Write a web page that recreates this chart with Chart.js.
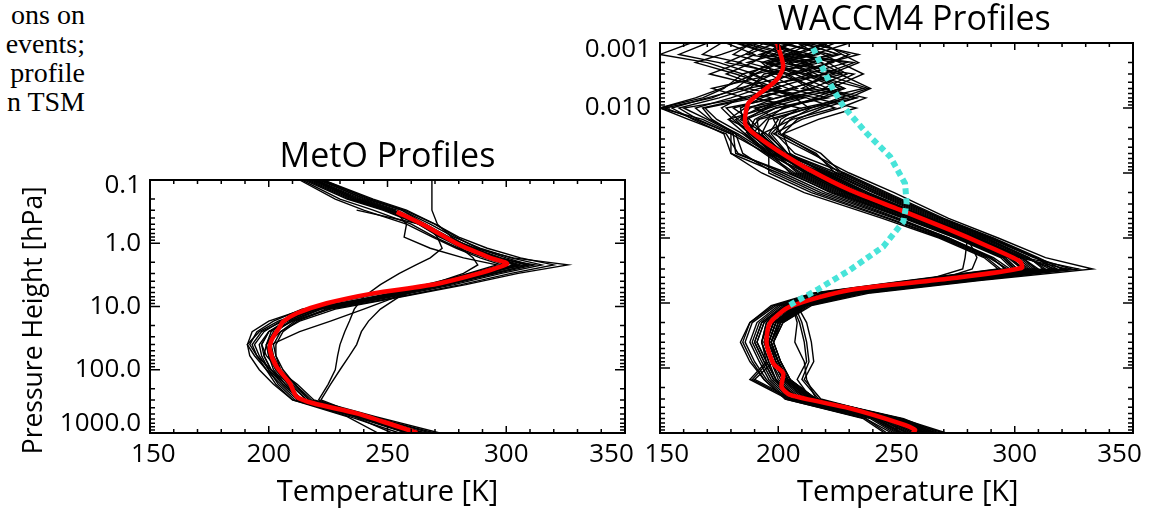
<!DOCTYPE html>
<html><head><meta charset="utf-8">
<script src="https://cdn.jsdelivr.net/npm/chart.js@4/dist/chart.umd.min.js"></script>
<style>
html,body{margin:0;padding:0;background:#fff;width:1157px;height:515px;overflow:hidden;position:relative}
#c1w{position:absolute;left:0;top:130px;width:645px;height:385px}
#c2w{position:absolute;left:560px;top:0;width:597px;height:515px}
#frag{position:absolute;left:-200px;top:0px;width:285px;text-align:right;white-space:nowrap;font-family:'Liberation Serif',serif;font-size:28px;line-height:29px;color:#000}
</style></head>
<body>
<div id="frag">ons on<br>events;<br>profile<br>n TSM</div>
<div id="c1w"><canvas id="c1"></canvas></div>
<div id="c2w"><canvas id="c2"></canvas></div>
<script>
// ---------------- data ----------------
const tempTicks = [150, 200, 250, 300, 350];
const tempTickLabels = ['150', '200', '250', '300', '350'];
const metoPressureTicks = [0.1, 1, 10, 100, 1000];
const metoPressureTickLabels = ['0.1', '1.0', '10.0', '100.0', '1000.0'];
const waccmPressureTicks = [0.001, 0.01];
const waccmPressureTickLabels = ['0.001', '0.010'];

// MetO profiles: temperature [K] at these pressure levels [hPa]
const metoPressure = [0.1, 0.2, 0.3, 0.5, 0.8, 1.2, 1.7, 2.2, 3, 4.5, 7, 11, 17, 25, 40, 60, 100, 170, 300, 550, 1000];
const metoT01 = [216, 234, 249, 263, 272, 282, 294, 303, 290, 272, 248, 221, 209, 203, 200, 200, 203, 208, 214, 239, 262];
const metoT02 = [219, 238, 252, 266, 276, 286, 298, 309, 295, 275, 250, 224, 211, 205, 202, 203, 206, 211, 218, 242, 265];
const metoT03 = [221, 241, 256, 268, 278, 289, 302, 315, 298, 278, 252, 225, 212, 206, 203, 203, 205, 210, 217, 244, 268];
const metoT04 = [214, 230, 244, 260, 270, 280, 291, 300, 288, 270, 245, 215, 200, 193, 191, 194, 199, 205, 212, 236, 258];
const metoT05 = [222, 243, 257, 270, 280, 292, 306, 320, 302, 281, 255, 226, 210, 200, 196, 197, 200, 206, 213, 240, 264];
const metoT06 = [218, 236, 250, 265, 275, 287, 303, 326, 305, 283, 256, 228, 213, 205, 199, 198, 201, 207, 214, 243, 270];
const metoT07 = [213, 228, 240, 258, 269, 279, 289, 298, 285, 266, 240, 214, 202, 195, 192, 195, 201, 209, 216, 238, 260];
const metoT08 = [220, 239, 253, 258, 257, 268, 282, 296, 284, 268, 244, 218, 205, 198, 194, 196, 200, 204, 211, 234, 255];
const metoT09 = [268.7, 268.7, 268.7, 271, 277, 285, 296, 306, 292, 273, 249, 222, 210, 202, 199, 200, 203, 209, 216, 241, 264];
const metoT10 = [223, 242, 256, 266, 271, 273, 268, 262, 255, 247, 240, 236, 234, 232, 230, 229, 228, 225, 221, 238, 258];
const metoT11 = [217, 235, 250, 264, 274, 284, 295, 304, 290, 268, 255, 247, 242, 239, 237, 234, 230, 226, 222, 240, 261];
const metoT12 = [220, 237, 252, 265, 275, 285, 297, 308, 290, 270, 254, 240, 226, 213, 201, 202, 205, 211, 217, 242, 266];
const metoT13 = [222, 240, 254, 266, 275, 284, 295, 305, 293, 274, 249, 220, 206, 197, 193, 195, 199, 203, 210, 236, 252];
const metoT14 = [215, 233, 248, 263, 273, 283, 295, 312, 296, 276, 250, 222, 208, 200, 197, 199, 204, 212, 219, 245, 272];
const metoT15 = [223, 244, 258, 270, 279, 288, 300, 310, 294, 273, 247, 218, 204, 196, 191, 192, 196, 202, 210, 233, 246];
const metoT16 = [null, null, 237, 264, 274, 284, 296, 304, 291, 271, 246, 219, 207, 201, 199, 200, 202, 207, 213, 237, 259];
const metoT17 = [219, 236, 251, 264, 273, 281, 286, 288, 282, 268, 246, 220, 207, 200, 197, 198, 201, 206, 213, 238, 261];
const metoProfiles = [metoT01, metoT02, metoT03, metoT04, metoT05, metoT06, metoT07, metoT08, metoT09,
  metoT10, metoT11, metoT12, metoT13, metoT14, metoT15, metoT16, metoT17];

// MetO mean profile (red)
const metoMeanPressure = [0.32, 0.51, 1.07, 1.7, 2.13, 4.3, 6.2, 8.9, 12.8, 17.4, 20.8, 33.9, 48.7, 89.5, 164, 267, 339, 489, 747, 1000];
const metoMeanTemp = [253.9, 265.1, 280.5, 293.2, 300.3, 272.1, 244.0, 224.4, 211.8, 206.0, 204.7, 201.2, 200.5, 203.3, 208.9, 211.8, 218.8, 237.0, 252.4, 262.5];

// WACCM4 profiles
const waccmPressure = [0.001, 0.0015, 0.002, 0.003, 0.005, 0.007, 0.01, 0.015, 0.025, 0.05, 0.1, 0.2, 0.5, 1, 2, 3, 4.5, 7, 11, 20, 40, 80, 150, 300, 600, 1000];
const waccmT01 = [205, 198, 212, 190, 201, 184, 176, 181, 188, 198, 213, 229, 257, 278, 296, 301, 264, 224, 204, 195, 193, 196, 199, 209, 243, 255];
const waccmT02 = [192, 214, 196, 221, 187, 205, 195, 179, 192, 203, 220, 238, 264, 285, 303, 309, 272, 231, 209, 199, 196, 200, 203, 214, 249, 262];
const waccmT03 = [220, 206, 229, 212, 236, 219, 202, 195, 189, 197, 205, 222, 251, 272, 290, 296, 258, 219, 201, 192, 189, 193, 197, 206, 240, 251];
const waccmT04 = [178, 190, 183, 199, 172, 186, 160, 170, 182, 185, 198, 216, 247, 270, 289, 297, 257, 217, 199, 189, 186, 190, 195, 204, 237, 248];
const waccmT05 = [211, 225, 205, 216, 228, 207, 213, 198, 201, 215, 226, 244, 269, 290, 309, 318, 279, 236, 212, 201, 198, 201, 205, 216, 252, 266];
const waccmT06 = [199, 187, 208, 226, 239, 230, 210, 192, 186, 195, 212, 231, 260, 281, 300, 306, 268, 228, 207, 198, 195, 198, 202, 212, 246, 258];
const waccmT07 = [163, 150, 170, 185, 177, 168, 150, 162, 178, 183, 202, 220, 250, 272, 291, 298, 260, 221, 202, 193, 190, 194, 198, 207, 241, 252];
const waccmT08 = [216, 230, 222, 204, 215, 199, 188, 184, 195, 204, 223, 241, 266, 287, 306, 313, 275, 233, 211, 200, 197, 200, 204, 215, 250, 264];
const waccmT09 = [201, 195, 189, 178, 195, 212, 224, 206, 193, 199, 216, 233, 261, 282, 301, 307, 269, 229, 208, 199, 196, 199, 203, 213, 247, 260];
const waccmT10 = [185, 203, 215, 196, 208, 190, 169, 174, 185, 196, 210, 228, 258, 280, 302, 322, 280, 234, 210, 198, 195, 198, 202, 212, 245, 257];
const waccmT11 = [208, 217, 200, 232, 219, 237, 226, 210, 198, 214, 230, 249, 272, 293, 313, 333, 285, 239, 214, 202, 198, 201, 205, 216, 253, 268];
const waccmT12 = [196, 209, 223, 207, 183, 197, 181, 188, 194, 202, 214, 232, 260, 280, 279, 278, 262, 225, 205, 196, 194, 197, 201, 211, 244, 256];
const waccmT13 = [224, 212, 197, 188, 204, 221, 199, 186, 191, 200, 211, 228, 257, 279, 298, 304, 266, 226, 207, 210, 212, 213, 210, 217, 248, 261];
const waccmT14 = [189, 181, 194, 210, 226, 215, 233, 217, 202, 205, 219, 236, 263, 284, 303, 310, 271, 229, 207, 196, 193, 195, 188, 204, 240, 250];
const waccmT15 = [213, 199, 218, 194, 188, 175, 158, 166, 180, 195, 207, 225, 254, 276, 295, 300, 262, 223, 203, 194, 191, 195, 199, 209, 243, 254];
const waccmT16 = [200, 222, 210, 219, 198, 209, 190, 200, 196, 203, 221, 238, 264, 284, 304, 317, 276, 232, 209, 199, 196, 199, 203, 214, 249, 263];
const waccmT17 = [194, 186, 178, 203, 213, 200, 178, 183, 190, 199, 213, 230, 258, 280, 284, 282, 267, 229, 208, 212, 214, 215, 211, 218, 250, 270];
const waccmT18 = [219, 227, 234, 222, 210, 228, 217, 203, 197, 204, 225, 242, 267, 288, 306, 312, 273, 231, 210, 200, 197, 200, 204, 214, 250, 264];
const waccmT19 = [182, 197, 204, 214, 192, 180, 165, 171, 183, 196, 196, 214, 246, 269, 288, 294, 256, 216, 198, 188, 184, 188, 194, 203, 236, 245];
const waccmT20 = [207, 192, 201, 185, 196, 216, 203, 191, 192, 201, 218, 235, 262, 284, 304, 327, 283, 236, 212, 201, 197, 200, 204, 215, 252, 271];
const waccmT21 = [203, 219, 226, 236, 222, 204, 194, 187, 190, 199, 208, 226, 255, 277, 296, 301, 263, 224, 204, 195, 193, 196, 189, 205, 241, 252];
const waccmT22 = [170, 158, 175, 190, 182, 172, 152, 165, 180, 180, 193, 211, 244, 268, 287, 293, 255, 215, 197, 188, 185, 189, 194, 203, 237, 246];
const waccmT23 = [214, 204, 193, 199, 218, 233, 213, 196, 193, 201, 222, 240, 265, 286, 305, 315, 276, 233, 210, 199, 196, 199, 203, 213, 248, 261];
const waccmT24 = [198, 210, 218, 227, 205, 193, 184, 185, 189, 198, 209, 227, 256, 278, 297, 303, 265, 226, 206, 209, 211, 212, 208, 214, 246, 259];
const waccmT25 = [188, 205, 195, 212, 228, 218, 199, 190, 187, 196, 217, 234, 262, 283, 302, 308, 270, 229, 208, 198, 195, 198, 202, 212, 246, 259];
const waccmT26 = [230, 215, 201, 190, 176, 165, 150, 168, 181, 182, 204, 223, 253, 275, 294, 299, 261, 222, 203, 194, 191, 195, 199, 208, 242, 253];
const waccmT27 = [205, 193, 211, 224, 206, 190, 209, 201, 199, 207, 228, 246, 270, 291, 310, 320, 281, 237, 213, 202, 198, 201, 205, 216, 251, 267];
const waccmT28 = [176, 168, 184, 171, 196, 207, 186, 179, 186, 197, 215, 233, 261, 282, 300, 305, 267, 227, 206, 197, 194, 197, 200, 210, 245, 257];
const waccmT29 = [209, 226, 214, 198, 185, 170, 155, 164, 177, 180, 200, 218, 249, 271, 290, 296, 258, 219, 200, 191, 188, 192, 196, 205, 239, 249];
const waccmT30 = [195, 207, 232, 219, 238, 226, 214, 205, 200, 216, 224, 243, 268, 289, 308, 324, 282, 236, 212, 201, 197, 200, 204, 215, 251, 266];
const waccmT31 = [183, 199, 187, 205, 193, 211, 196, 185, 190, 200, 212, 229, 258, 279, 298, 303, 265, 226, 206, 208, 207, 211, 212, 216, 247, 262];
const waccmT32 = [221, 208, 196, 207, 221, 204, 192, 182, 188, 199, 219, 237, 263, 284, 303, 309, 270, 229, 208, 198, 195, 198, 190, 206, 243, 255];
const waccmT33 = [190, 176, 165, 182, 200, 187, 168, 172, 182, 194, 206, 224, 254, 276, 295, 300, 262, 223, 203, 193, 190, 194, 198, 208, 242, 252];
const waccmT34 = [212, 234, 221, 229, 214, 233, 219, 208, 202, 218, 227, 245, 269, 290, 309, 316, 277, 234, 211, 200, 197, 200, 204, 215, 251, 265];
const waccmProfiles = [waccmT01, waccmT02, waccmT03, waccmT04, waccmT05, waccmT06, waccmT07, waccmT08,
  waccmT09, waccmT10, waccmT11, waccmT12, waccmT13, waccmT14, waccmT15, waccmT16, waccmT17, waccmT18,
  waccmT19, waccmT20, waccmT21, waccmT22, waccmT23, waccmT24, waccmT25, waccmT26, waccmT27, waccmT28,
  waccmT29, waccmT30, waccmT31, waccmT32, waccmT33, waccmT34];

// WACCM4 mean profile (red)
const waccmMeanPressure = [0.001, 0.0023, 0.0037, 0.0059, 0.0085, 0.0172, 0.0245, 0.044, 0.09, 0.183, 0.37, 0.75, 1.28, 2.3, 2.9, 4.2, 6.3, 11.4, 20.4, 41.5, 85, 121, 194, 260, 418, 710, 890, 1000];
const waccmMeanTemp = [199.5, 202.1, 199.3, 192.3, 187.3, 186.0, 189.5, 199.3, 213.4, 230.3, 251.5, 272.6, 287.4, 302.2, 302.9, 272.6, 230.3, 205.0, 196.5, 195.1, 197.9, 202.1, 201.4, 205.0, 230.3, 251.5, 257.8, 257.0];

// dotted cyan reference profile
const refPressure = [0.0012, 0.0047, 0.0095, 0.0245, 0.056, 0.145, 0.29, 0.56, 1.36, 3.1, 6.3, 11.4];
const refTemp = [214.7, 222.6, 227.6, 237.4, 247.3, 253.6, 254.3, 252.9, 244.4, 230.3, 216.3, 203.6];

// ---------------- helpers ----------------
const FONT = "'Open Sans', 'Noto Sans', sans-serif";
const NBSP = '\u00a0';
function pts(pres, temps) {
  return pres.map((p, i) => ({ x: temps[i] == null ? null : temps[i], y: p }));
}
function lineDs(pres, temps, color, width, order, extra) {
  return Object.assign({
    data: pts(pres, temps), borderColor: color, backgroundColor: color, borderWidth: width,
    pointRadius: 0, pointHoverRadius: 0, showLine: true, tension: 0, fill: false, spanGaps: false, order: order
  }, extra || {});
}
function isDecade(v) { const l = Math.log10(v); return Math.abs(l - Math.round(l)) < 1e-6; }
function labelFor(v, vals, labels) {
  for (let i = 0; i < vals.length; i++) if (Math.abs(Math.log10(v) - Math.log10(vals[i])) < 1e-6) return labels[i];
  return '';
}

const idlFrame = {
  id: 'idlFrame',
  afterDatasetsDraw(chart) {
    const { ctx, chartArea: a } = chart;
    const x = chart.scales.x, y = chart.scales.y;
    ctx.save();
    ctx.strokeStyle = '#000';
    ctx.lineWidth = 1.5;
    ctx.beginPath();
    x.ticks.forEach(t => {
      const px = x.getPixelForValue(t.value);
      const len = (t.value % 50 === 0) ? 7 : 4;
      ctx.moveTo(px, a.bottom); ctx.lineTo(px, a.bottom - len);
      ctx.moveTo(px, a.top); ctx.lineTo(px, a.top + len);
    });
    y.ticks.forEach(t => {
      const py = y.getPixelForValue(t.value);
      const len = isDecade(t.value) ? 10 : 5;
      ctx.moveTo(a.left, py); ctx.lineTo(a.left + len, py);
      ctx.moveTo(a.right, py); ctx.lineTo(a.right - len, py);
    });
    ctx.stroke();
    ctx.lineWidth = 2;
    ctx.strokeRect(a.left, a.top, a.right - a.left, a.bottom - a.top);
    ctx.restore();
  }
};

function makeChart(canvasId, opts) {
  const datasets = [];
  if (opts.ref) datasets.push(lineDs(opts.ref.p, opts.ref.t, '#48e4d9', 6, 0, { borderDash: [6, 4] }));
  datasets.push(lineDs(opts.mean.p, opts.mean.t, '#ff0000', 4.5, 1, { tension: 0.25 }));
  opts.profiles.forEach(pr => datasets.push(lineDs(opts.pres, pr, '#000000', 1.4, 2)));
  return new Chart(document.getElementById(canvasId), {
    type: 'scatter',
    data: { datasets },
    plugins: [idlFrame],
    options: {
      responsive: true, maintainAspectRatio: false, animation: false, devicePixelRatio: 1,
      layout: { padding: { left: 0, right: opts.padRight, top: 0, bottom: 0 } },
      plugins: {
        legend: { display: false }, tooltip: { enabled: false },
        title: {
          display: true, text: NBSP.repeat(opts.titleShift) + opts.title, color: '#000', fullSize: false,
          font: { family: FONT, size: 34, weight: 'normal', lineHeight: 1.2 },
          padding: { top: opts.titleTop, bottom: opts.titleBottom }
        }
      },
      scales: {
        x: {
          type: 'linear', position: 'bottom', min: 150, max: 350,
          grid: { display: false, drawTicks: false }, border: { display: false },
          afterBuildTicks: s => { const t = []; for (let v = 150; v <= 350; v += 10) t.push({ value: v }); s.ticks = t; },
          afterFit: s => { s.height = 82; s.paddingLeft = 0; s.paddingRight = 0; },
          ticks: {
            autoSkip: false, maxRotation: 0, color: '#000', padding: 6,
            font: { family: FONT, size: 26 },
            callback: v => {
              const i = tempTicks.indexOf(v);
              if (i < 0) return '';
              let s = tempTickLabels[i];
              if (i === 0) s = NBSP.repeat(opts.xFirstPad) + s;
              if (i === tempTicks.length - 1) s = s + NBSP.repeat(opts.xLastPad);
              return s;
            }
          },
          title: { display: true, text: NBSP.repeat(opts.xTitleShift) + 'Temperature [K]', color: '#000', font: { family: FONT, size: 29 }, padding: { top: 0, bottom: 4.6 } }
        },
        y: {
          type: 'logarithmic', position: 'left', reverse: true, min: opts.pmin, max: 1000,
          grid: { display: false, drawTicks: false }, border: { display: false },
          afterBuildTicks: s => {
            const t = [];
            for (let d = Math.round(Math.log10(opts.pmin)); d <= 3; d++) {
              for (let k = 1; k <= 9; k++) { const v = k * Math.pow(10, d); if (v <= 1000 * 1.0001) t.push({ value: v }); }
            }
            s.ticks = t;
          },
          afterFit: s => { s.width = opts.yWidth; s.paddingTop = 0; s.paddingBottom = 0; },
          ticks: {
            autoSkip: false, color: '#000', padding: 9,
            font: ctx => {
              const v = ctx.tick ? ctx.tick.value : 1;
              let lh = 1.2;
              if (opts.shiftDown && Math.abs(v - opts.pmin) / opts.pmin < 1e-6) lh = opts.shiftDown * 2 / 26;
              if (opts.shiftUp && Math.abs(v - 1000) < 1e-3) lh = opts.shiftUp * 2 / 26;
              return { family: FONT, size: 26, lineHeight: lh };
            },
            callback: v => {
              const s = labelFor(v, opts.yTicks, opts.yLabels);
              if (!s) return '';
              if (opts.shiftDown && Math.abs(v - opts.pmin) / opts.pmin < 1e-6) return ['', s];
              if (opts.shiftUp && Math.abs(v - 1000) < 1e-3) return [s, ''];
              return s;
            }
          },
          title: { display: !!opts.yTitle, text: (opts.yTitle || '') + NBSP.repeat(4), color: '#000', font: { family: FONT, size: 26.5 }, padding: { top: 18.6, bottom: 0 } }
        }
      }
    }
  });
}

makeChart('c1', {
  title: 'MetO Profiles', titleShift: 0, titleTop: 6.6, titleBottom: 2.6, padRight: 20, yWidth: 150, pmin: 0.1,
  yTicks: metoPressureTicks, yLabels: metoPressureTickLabels, yTitle: 'Pressure Height [hPa]',
  shiftDown: 6, shiftUp: 9, xFirstPad: 1, xLastPad: 4, xTitleShift: 0,
  pres: metoPressure, profiles: metoProfiles, mean: { p: metoMeanPressure, t: metoMeanTemp }
});
makeChart('c2', {
  title: 'WACCM4 Profiles', titleShift: 4, titleTop: 0, titleBottom: 2.2, padRight: 24, yWidth: 100, pmin: 0.001,
  yTicks: waccmPressureTicks, yLabels: waccmPressureTickLabels, yTitle: '',
  shiftDown: 7, shiftUp: 0, xFirstPad: 2, xLastPad: 4, xTitleShift: 3,
  pres: waccmPressure, profiles: waccmProfiles, mean: { p: waccmMeanPressure, t: waccmMeanTemp },
  ref: { p: refPressure, t: refTemp }
});
</script>
</body></html>
